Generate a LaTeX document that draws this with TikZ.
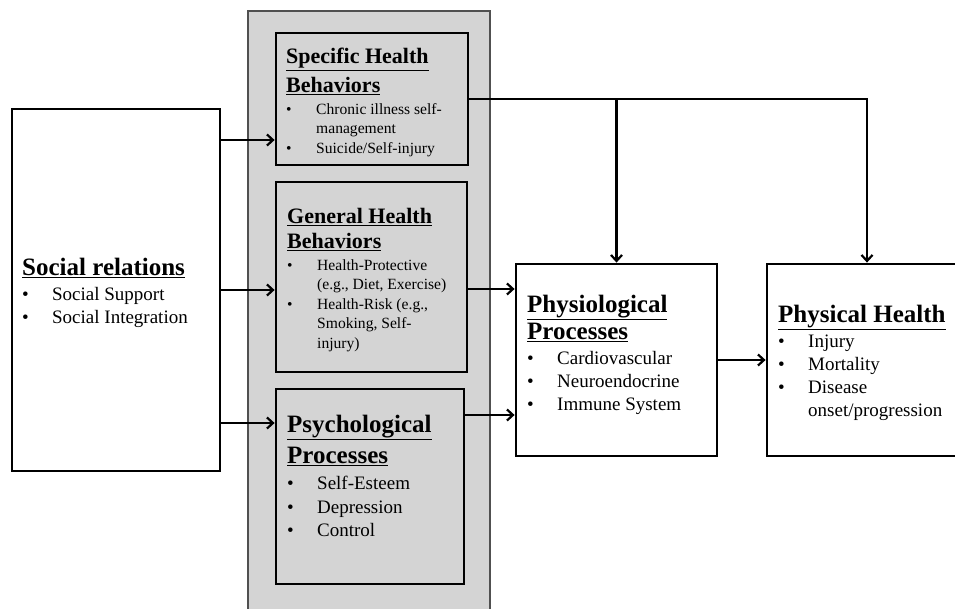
\documentclass[tikz,border=0pt]{standalone}
\usepackage{fontspec}
\setmainfont{Liberation Serif}
\usepackage{xcolor}
\definecolor{panel}{RGB}{212, 212, 212}
\definecolor{frame}{RGB}{80, 80, 80}
\usetikzlibrary{calc,positioning,arrows.meta}
\newcommand{\hd}[1]{\textbf{\underline{#1}}}
\newcommand{\bul}{\makebox[30pt][l]{\textbullet}}
\newcommand{\ind}{\hspace*{30pt}}
\newcommand{\bighead}{\fontsize{25}{27}\selectfont}
\newcommand{\bigitem}{\fontsize{19}{23}\selectfont}
\newcommand{\smallhead}{\fontsize{22}{24}\selectfont}
\newcommand{\smallitem}{\fontsize{15.6}{19.5}\selectfont}
\tikzset{
    box/.style={draw=black, line width=2.8pt, fill=white, inner sep=0pt},
    graybox/.style={box, fill=panel},
    txt/.style={anchor=north west, inner sep=0pt, align=left},
    arr/.style={line width=2.6pt, -{Straight Barb[length=6pt,width=11pt,line width=2.2pt]}}
}

\begin{document}
\begin{tikzpicture}[x=1pt, y=-1pt]
    \useasboundingbox (0,0) rectangle (955,609);
    % grey panel behind the mediating boxes
    \node[draw=frame, line width=2.2pt, fill=panel, minimum width=242pt, minimum height=619pt] (grp) at (369,320.5) {};

    \node[box, minimum width=208pt, minimum height=362pt] (soc) at (116,290) {};
    \node[graybox, minimum width=192pt, minimum height=132pt] (spec) at (372,99) {};
    \node[graybox, minimum width=191pt, minimum height=190pt] (gen) at (371.5,277) {};
    \node[graybox, minimum width=188pt, minimum height=195pt] (psy) at (370,486.5) {};
    \node[box, minimum width=201pt, minimum height=192pt] (physio) at (616.5,360) {};
    \node[box, minimum width=200pt, minimum height=192pt] (health) at (867,360) {};

    % box texts
    \node[txt, font=\bigitem] (soctxt) at (22,258) {{\bighead\hd{Social relations}}\\[2pt]
        \bul Social Support\\ \bul Social Integration};
    \node[txt, font=\smallitem] (spectxt) at (286,48) {{\smallhead\hd{Specific Health}}\\[6pt]
        {\smallhead\hd{Behaviors}}\\[2pt]
        \bul Chronic illness self-\\ \ind management\\ \bul Suicide/Self-injury};
    \node[txt, font=\smallitem] (gentxt) at (287,208) {{\smallhead\hd{General Health}}\\[5.5pt]
        {\smallhead\hd{Behaviors}}\\[2.5pt]
        \bul Health-Protective\\ \ind (e.g., Diet, Exercise)\\
        \bul Health-Risk (e.g.,\\ \ind Smoking, Self-\\ \ind injury)};
    \node[txt, font=\fontsize{19}{23.5}\selectfont] (psytxt) at (287,415) {{\bighead\hd{Psychological}}\\[6.5pt]
        {\bighead\hd{Processes}}\\[2.5pt]
        \bul Self-Esteem\\ \bul Depression\\ \bul Control};
    \node[txt, font=\bigitem] (physiotxt) at (527,295) {{\bighead\hd{Physiological}}\\[2.5pt]
        {\bighead\hd{Processes}}\\[2pt]
        \bul Cardiovascular\\ \bul Neuroendocrine\\ \bul Immune System};
    \node[txt, font=\bigitem] (healthtxt) at (778,305) {{\bighead\hd{Physical Health}}\\[2pt]
        \bul Injury\\ \bul Mortality\\ \bul Disease\\ \ind onset/progression};

    % connectors
    \draw[arr] (soc.east |- 0,140) -- (spec.west |- 0,140);
    \draw[arr] (soc.east |- 0,290) -- (gen.west |- 0,290);
    \draw[arr] (soc.east |- 0,423) -- (psy.west |- 0,423);
    \draw[arr] (gen.east |- 0,289) -- (physio.west |- 0,289);
    \draw[arr] (psy.east |- 0,415) -- (physio.west |- 0,415);
    \draw[arr] (physio.east) -- (health.west);
    \draw[arr] (spec.east) -| (health.north);
    \draw[arr] (spec.east -| physio.north) -- (physio.north);
\end{tikzpicture}
\end{document}
